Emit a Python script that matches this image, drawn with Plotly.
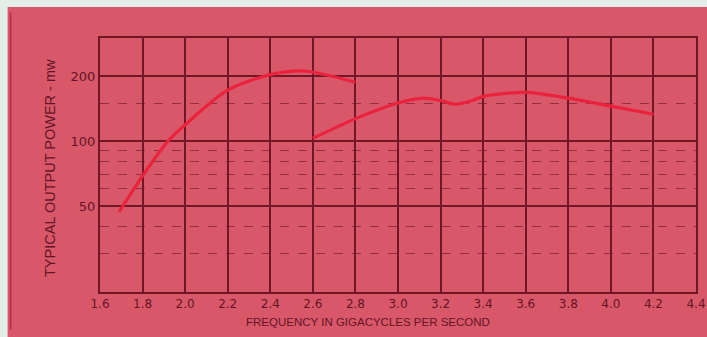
import plotly.graph_objects as go

# ---- data ----
freq_a = [1.69, 1.8, 1.92, 2.0, 2.2, 2.4, 2.56, 2.8]
power_a = [47, 69, 100, 119, 172, 203, 211, 187]

freq_b = [2.6, 2.8, 2.9, 3.0, 3.12, 3.2, 3.27, 3.35, 3.4, 3.6, 3.8, 4.0, 4.2]
power_b = [103, 127, 139, 150, 158, 154, 148, 154, 161, 168, 158, 145, 133]

x_ticks = [1.6, 1.8, 2.0, 2.2, 2.4, 2.6, 2.8, 3.0, 3.2, 3.4, 3.6, 3.8, 4.0, 4.2, 4.4]
x_labels = ["1.6", "1.8", "2.0", "2.2", "2.4", "2.6", "2.8", "3.0", "3.2", "3.4",
            "3.6", "3.8", "4.0", "4.2", "4.4"]
y_major = [50, 100, 200]
y_labels = ["50", "100", "200"]
y_minor = [30, 40, 60, 70, 80, 90, 150]

PINK = "rgb(216,88,106)"
GRID = "rgb(112,24,40)"
MINOR = "rgba(125,32,48,0.75)"
TEXT = "rgb(100,20,36)"
CURVE = "rgb(234,34,60)"
PALE = "rgb(228,238,232)"

fig = go.Figure()
for fx, py in ((freq_a, power_a), (freq_b, power_b)):
    fig.add_trace(go.Scatter(
        x=fx, y=py, mode="lines",
        line=dict(color=CURVE, width=3.2, shape="spline", smoothing=0.8),
        hoverinfo="skip", showlegend=False,
    ))

font = dict(family="Liberation Sans, Arial, sans-serif", size=12, color=TEXT)

fig.update_layout(
    width=707, height=337,
    margin=dict(l=100, r=11, t=38, b=45, autoexpand=False),
    paper_bgcolor=PINK, plot_bgcolor=PINK,
    font=font,
    showlegend=False,
    xaxis=dict(
        range=[1.6, 4.4], automargin=False,
        tickmode="array", tickvals=x_ticks, ticktext=x_labels,
        showgrid=True, gridcolor=GRID, gridwidth=1.5,
        showline=True, linecolor=GRID, linewidth=2, mirror=True,
        ticks="", zeroline=False, ticklabeloverflow="allow",
        tickfont=dict(family="DejaVu Sans, sans-serif", size=12, color=TEXT),
    ),
    yaxis=dict(
        type="log", automargin=False,
        range=[1.30103, 2.47712],
        tickmode="array", tickvals=y_major, ticktext=y_labels,
        showgrid=True, gridcolor=GRID, gridwidth=1.5,
        showline=True, linecolor=GRID, linewidth=2, mirror=True,
        ticks="", zeroline=False,
        tickfont=dict(family="DejaVu Sans, sans-serif", size=13, color=TEXT),
        minor=dict(tickmode="array", tickvals=y_minor, showgrid=True,
                   gridcolor=MINOR, gridwidth=1, griddash="dash", ticks=""),
    ),
    annotations=[
        dict(text="FREQUENCY IN GIGACYCLES PER SECOND", xref="paper", yref="paper",
             x=0.45, y=-0.118, xanchor="center", yanchor="middle", showarrow=False,
             font=dict(size=11.5, color=TEXT)),
        dict(text="TYPICAL OUTPUT POWER - mw", xref="paper", yref="paper",
             x=-0.084, y=0.488, xanchor="center", yanchor="middle", showarrow=False,
             textangle=-90, font=dict(size=14.5, color=TEXT)),
    ],
    shapes=[
        dict(type="rect", xref="paper", yref="paper", x0=-0.2, x1=1.05,
             y0=1.122, y1=1.2, fillcolor=PALE, line=dict(width=0), layer="above"),
        dict(type="rect", xref="paper", yref="paper", x0=-0.2, x1=-0.155,
             y0=-0.2, y1=1.2, fillcolor=PALE, line=dict(width=0), layer="above"),
        dict(type="line", xref="paper", yref="paper", x0=-0.15, x1=-0.15,
             y0=-0.15, y1=1.1, line=dict(color="rgb(170,50,70)", width=1.5)),
    ],
)

fig.write_html(
    "out.html",
    config={"displayModeBar": False},
    post_script="document.body.style.margin='0';document.body.style.overflow='hidden';"
                "document.body.style.background='rgb(228,238,232)';",
)
